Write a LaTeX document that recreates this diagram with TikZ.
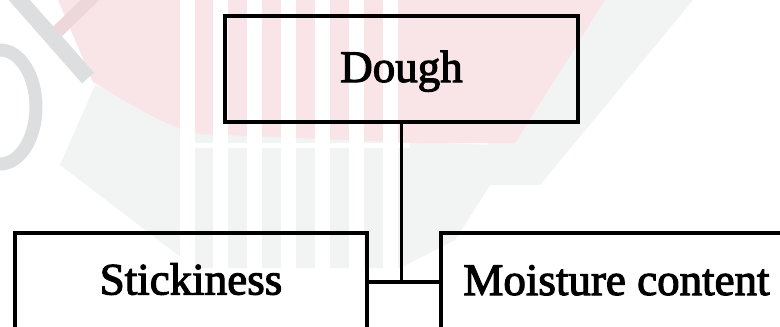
\documentclass[tikz,border=0pt]{standalone}
\usepackage{fontspec}
\setmainfont{Liberation Serif}
\newfontfamily\boxfont{Liberation Serif}[FakeBold=2.5]
\definecolor{wmpink}{HTML}{F9E4E7}
\definecolor{wmpinkband}{HTML}{EED7DB}
\definecolor{wmgrey}{HTML}{F2F3F3}
\definecolor{wmarc}{HTML}{DDDEDF}
\tikzset{
  box/.style={draw=black, line width=3.8pt, inner sep=0pt, align=center,
    font=\boxfont\fontsize{45}{50}\selectfont, anchor=base},
  link/.style={draw=black, line width=3.2pt}
}
\begin{document}
\begin{tikzpicture}[x=1pt, y=-1pt]
\useasboundingbox (0,0) rectangle (780,327);
\clip (0,0) rectangle (780,327);
\fill[white] (0,0) rectangle (780,327);

% faint background emblem
\fill[wmgrey] (60,165) -- (95,85) -- (200,133) -- (515,146) -- (455,240)
  -- (400,268) -- (195,268) -- cycle;
\fill[wmgrey] (603,0) -- (693,0) -- (540,185) -- (455,185) -- cycle;
\fill[wmpink] (58,0) -- (93,82) .. controls (140,110) and (170,128) .. (200,134)
  -- (420,143) -- (515,143) -- (605,0) -- cycle;
\foreach \sx in {180,213,247,281,315,349,383}
  \fill[white] (\sx,0) rectangle ++(15,270);
\fill[white] (190,143) rectangle (410,148);
\draw[wmarc, line width=13pt] (0,107) ellipse [x radius=36, y radius=57];
\draw[wmarc, line width=16pt] (14,-6) -- (88,78);
\draw[wmpinkband, line width=13pt] (95,-5) -- (57,32);

% boxes
\node[box, minimum width=353pt, text height=66pt, text depth=40pt]
  (dough) at (401.5,82) {Dough};
\node[box, minimum width=352pt, text height=61.5pt, text depth=60pt]
  (stick) at (191,294.5) {Stickiness};
\node[box, minimum width=351pt, text height=62pt, text depth=60pt]
  (moist) at (616.5,295) {Moisture content};

% connectors
\coordinate (j) at (402,282);
\draw[link] (dough.south) -- (dough.south |- j);
\draw[link] (stick.east |- j) -- (moist.west |- j);
\end{tikzpicture}
\end{document}
